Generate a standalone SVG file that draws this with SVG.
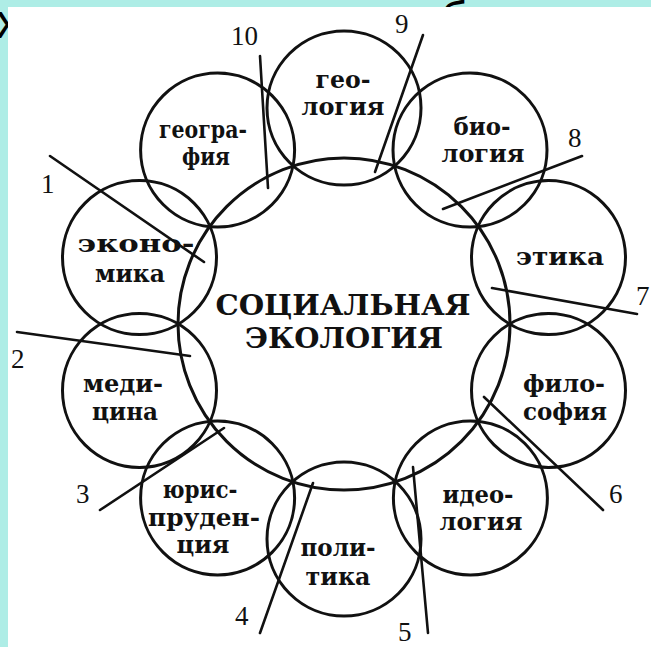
<svg xmlns="http://www.w3.org/2000/svg" width="651" height="647" viewBox="0 0 651 647">
<style>
.c{fill:none;stroke:#111;stroke-width:3}
.l{font-family:"DejaVu Serif","Liberation Serif",serif;font-weight:bold;font-size:25px;fill:#111;text-anchor:middle}
.t{font-family:"DejaVu Serif","Liberation Serif",serif;font-weight:bold;font-size:28px;fill:#111;text-anchor:middle}
.n{font-family:"Liberation Serif","Times New Roman",serif;font-size:27px;fill:#111}
.k{stroke:#111;stroke-width:2.6;fill:none;stroke-linecap:round}
.h{font-family:"Liberation Sans",Arial,sans-serif;font-size:48px;fill:#000}
</style>
<rect x="0" y="0" width="651" height="647" fill="#aeede6"/>
<text class="h" x="-4" y="38">х</text>
<text class="h" x="440" y="36">б</text>
<rect x="8" y="7" width="643" height="640" fill="#fff"/>

<g id="social-ecology">
<circle class="c" cx="344" cy="324" r="166"/>
<text class="t" x="343" y="315" textLength="255" lengthAdjust="spacingAndGlyphs">СОЦИАЛЬНАЯ</text>
<text class="t" x="344" y="348" textLength="198" lengthAdjust="spacingAndGlyphs">ЭКОЛОГИЯ</text>
</g>
<g id="geology">
<circle class="c" cx="344" cy="108" r="77"/>
<text class="l" x="343" y="88" textLength="55" lengthAdjust="spacingAndGlyphs">гео-</text>
<text class="l" x="343" y="115" textLength="83" lengthAdjust="spacingAndGlyphs">логия</text>
</g>
<g id="biology">
<circle class="c" cx="470" cy="150" r="77"/>
<text class="l" x="482" y="135" textLength="57" lengthAdjust="spacingAndGlyphs">био-</text>
<text class="l" x="483" y="162" textLength="83" lengthAdjust="spacingAndGlyphs">логия</text>
</g>
<g id="ethics">
<circle class="c" cx="548.5" cy="257.6" r="77"/>
<text class="l" x="560" y="265" textLength="88" lengthAdjust="spacingAndGlyphs">этика</text>
</g>
<g id="philosophy">
<circle class="c" cx="548.5" cy="390.4" r="77"/>
<text class="l" x="564" y="392" textLength="82" lengthAdjust="spacingAndGlyphs">фило-</text>
<text class="l" x="565" y="420" textLength="84" lengthAdjust="spacingAndGlyphs">софия</text>
</g>
<g id="ideology">
<circle class="c" cx="470.4" cy="497.9" r="77"/>
<text class="l" x="478" y="503" textLength="71" lengthAdjust="spacingAndGlyphs">идео-</text>
<text class="l" x="481" y="530" textLength="83" lengthAdjust="spacingAndGlyphs">логия</text>
</g>
<g id="politics">
<circle class="c" cx="344" cy="539" r="77"/>
<text class="l" x="338" y="556" textLength="75" lengthAdjust="spacingAndGlyphs">поли-</text>
<text class="l" x="338" y="585" textLength="65" lengthAdjust="spacingAndGlyphs">тика</text>
</g>
<g id="jurisprudence">
<circle class="c" cx="217.6" cy="497.9" r="77"/>
<text class="l" x="200" y="498" textLength="75" lengthAdjust="spacingAndGlyphs">юрис-</text>
<text class="l" x="204" y="526" textLength="112" lengthAdjust="spacingAndGlyphs">пруден-</text>
<text class="l" x="203" y="553" textLength="53" lengthAdjust="spacingAndGlyphs">ция</text>
</g>
<g id="medicine">
<circle class="c" cx="139.5" cy="390.4" r="77"/>
<text class="l" x="123" y="392" textLength="80" lengthAdjust="spacingAndGlyphs">меди-</text>
<text class="l" x="125" y="420" textLength="66" lengthAdjust="spacingAndGlyphs">цина</text>
</g>
<g id="economics">
<circle class="c" cx="139.5" cy="257.6" r="77"/>
<text class="l" x="136" y="252" textLength="117" lengthAdjust="spacingAndGlyphs">эконо-</text>
<text class="l" x="130" y="282" textLength="70" lengthAdjust="spacingAndGlyphs">мика</text>
</g>
<g id="geography">
<circle class="c" cx="217.6" cy="150.1" r="77"/>
<text class="l" x="203" y="138" textLength="88" lengthAdjust="spacingAndGlyphs">геогра-</text>
<text class="l" x="206" y="165" textLength="48" lengthAdjust="spacingAndGlyphs">фия</text>
</g>

<g id="connectors">
<line class="k" x1="50" y1="156" x2="204" y2="262"/>
<line class="k" x1="17" y1="332" x2="190" y2="356"/>
<line class="k" x1="100" y1="510" x2="224" y2="428"/>
<line class="k" x1="260" y1="633" x2="313" y2="483"/>
<line class="k" x1="428" y1="633" x2="413" y2="467"/>
<line class="k" x1="603" y1="510" x2="484" y2="397"/>
<line class="k" x1="637" y1="314" x2="492" y2="288"/>
<line class="k" x1="582" y1="156" x2="443" y2="209"/>
<line class="k" x1="423" y1="35" x2="375" y2="172"/>
<line class="k" x1="260" y1="56" x2="268" y2="188"/>
</g>
<g id="numbers">
<text class="n" x="41" y="193">1</text>
<text class="n" x="11" y="368">2</text>
<text class="n" x="76" y="503">3</text>
<text class="n" x="235" y="625">4</text>
<text class="n" x="398" y="641">5</text>
<text class="n" x="609" y="503">6</text>
<text class="n" x="636" y="305">7</text>
<text class="n" x="568" y="147">8</text>
<text class="n" x="395" y="33">9</text>
<text class="n" x="231" y="45">10</text>
</g>
</svg>
